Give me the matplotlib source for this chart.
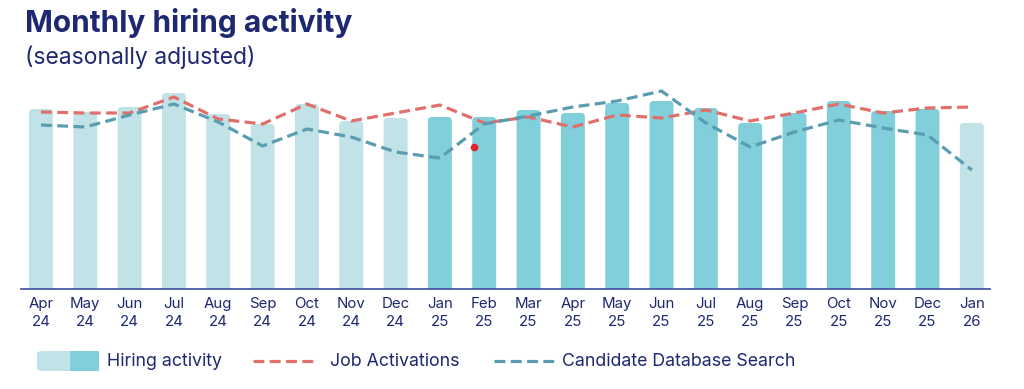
import matplotlib
matplotlib.use("Agg")
import matplotlib.pyplot as plt
from matplotlib.patches import FancyBboxPatch, Rectangle
from matplotlib.lines import Line2D

plt.rcParams['font.family'] = ['Inter', 'DejaVu Sans']

months = ["Apr\n24", "May\n24", "Jun\n24", "Jul\n24", "Aug\n24", "Sep\n24", "Oct\n24",
          "Nov\n24", "Dec\n24", "Jan\n25", "Feb\n25", "Mar\n25", "Apr\n25", "May\n25",
          "Jun\n25", "Jul\n25", "Aug\n25", "Sep\n25", "Oct\n25", "Nov\n25", "Dec\n25", "Jan\n26"]
hiring = [180, 177, 182, 196, 175, 165, 185, 168, 171, 172, 172, 179, 176, 186,
          188, 181, 166, 176, 188, 178, 180, 166]
highlight = [False] * 9 + [True] * 12 + [False]
job_act = [177, 176, 176, 192, 170, 165, 185, 168, 176, 184, 166, 172, 162, 174,
           171, 179, 168, 176, 185, 176, 181, 182]
cand_search = [164, 162, 174, 185, 167, 143, 160, 152, 137, 131, 165, 173, 182, 188,
               198, 166, 142, 157, 169, 161, 154, 119]
dot_x = [9.77]
dot_y = [142]

navy = "#1e2870"
light = "#c1e3e7"
dark = "#80cfdb"
red = "#e0706c"
blue = "#5a9db0"

W, H = 1024, 389
fig = plt.figure(figsize=(W / 100, H / 100), dpi=100)
ax = fig.add_axes([21 / W, 1 - 289 / H, (990 - 21) / W, 200 / H])

x = list(range(len(months)))
cols = [dark if h else light for h in highlight]
bars = ax.bar(x, hiring, width=0.54, color=cols, zorder=1)

# swap the plain bars for ones with rounded tops
aspect = (200 / 200) / (1 / ((990 - 21) / 21.86))
for b in bars:
    bx, bw, bh = b.get_x(), b.get_width(), b.get_height()
    b.set_visible(False)
    ax.add_patch(FancyBboxPatch((bx, -10), bw, bh + 10,
                                boxstyle="round,pad=0,rounding_size=0.09",
                                mutation_aspect=aspect, fc=b.get_facecolor(),
                                ec="none", zorder=1))

dash = (0, (3.4, 1.7))
ax.plot(x, job_act, color=red, lw=2.3, linestyle=dash, zorder=3)
ax.plot(x, cand_search, color=blue, lw=2.3, linestyle=dash, zorder=3)
ax.scatter(dot_x, dot_y, s=20, color="#e3232b", zorder=4)

ax.set_xlim(-0.45, 21.41)
ax.set_ylim(0, 200)
for s in ["top", "right", "left"]:
    ax.spines[s].set_visible(False)
ax.spines["bottom"].set_color("#3b4ba0")
ax.spines["bottom"].set_linewidth(1.2)
ax.spines["bottom"].set_zorder(5)
ax.set_yticks([])
ax.set_xticks(x)
ax.set_xticklabels(months, fontsize=10.8, color=navy, linespacing=1.3)
ax.tick_params(axis="x", length=0, pad=6)

fig.text(25 / W, 1 - 32 / H, "Monthly hiring activity", fontsize=21.5, fontweight="bold",
         color=navy, va="baseline")
fig.text(25 / W, 1 - 64 / H, "(seasonally adjusted)", fontsize=16.5, color=navy, va="baseline")

# legend, drawn by hand
def fx(px):
    return px / W

def fy(py):
    return 1 - py / H

fig.add_artist(FancyBboxPatch((fx(37), fy(371)), fx(62), 20 / H,
                              boxstyle="round,pad=0,rounding_size=0.006",
                              transform=fig.transFigure, fc=light, ec="none"))
fig.add_artist(Rectangle((fx(70), fy(371)), fx(29), 20 / H,
                         transform=fig.transFigure, fc=dark, ec="none"))
fig.text(fx(107), fy(361), "Hiring activity", fontsize=12.8, color=navy, va="center")
fig.add_artist(Line2D([fx(253), fx(318)], [fy(361), fy(361)], transform=fig.transFigure,
                      color=red, lw=2.3, linestyle=dash))
fig.text(fx(330), fy(361), "Job Activations", fontsize=12.8, color=navy, va="center")
fig.add_artist(Line2D([fx(494), fx(555)], [fy(361), fy(361)], transform=fig.transFigure,
                      color=blue, lw=2.3, linestyle=dash))
fig.text(fx(562), fy(361), "Candidate Database Search", fontsize=12.8, color=navy, va="center")

fig.savefig("out.png", dpi=100)
